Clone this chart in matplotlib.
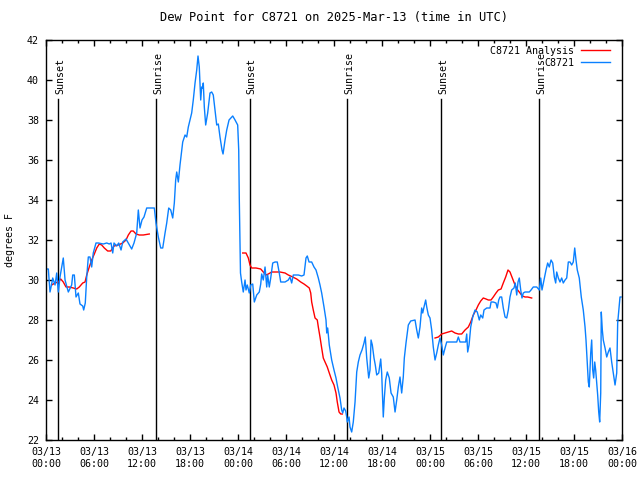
import matplotlib
matplotlib.use("Agg")
import matplotlib.pyplot as plt
import numpy as np

plt.rcParams['font.family'] = ['DejaVu Sans Mono']
plt.rcParams['font.size'] = 7.2

# hours since 2025-03-13 00:00 UTC
obs_hours = [0, 0.29, 0.5, 0.71, 0.84, 1.13, 1.34, 1.54, 1.75, 1.96, 2.16, 2.38, 2.79, 3.21, 3.34, 3.54, 3.75, 4.04,
             4.25, 4.59, 4.71, 4.91, 5.09, 5.29, 5.5, 5.71, 5.91, 6.25, 6.54, 7.16, 7.59, 7.91, 8.13, 8.34, 8.5, 8.84,
             9.09, 9.38, 9.59, 10.0, 10.29, 10.71, 11.0, 11.34, 11.54, 11.75, 12.0, 12.25, 12.59, 13.0, 13.54, 13.75,
             14.04, 14.34, 14.59, 14.88, 15.09, 15.34, 15.59, 15.84, 16.04, 16.21, 16.34, 16.54, 16.75, 17.09, 17.38,
             17.59, 17.79, 18.21, 18.41, 18.63, 18.84, 19.0, 19.16, 19.34, 19.46, 19.59, 19.66, 19.79, 19.96, 20.21,
             20.5, 20.71, 20.91, 21.13, 21.34, 21.54, 21.75, 22.0, 22.13, 22.38, 22.59, 22.88, 23.34, 23.63, 23.96,
             24.09, 24.16, 24.25, 24.31, 24.46, 24.66, 24.88, 25.0, 25.16, 25.41, 25.59, 25.84, 26.04, 26.34, 26.66,
             26.84, 26.96, 27.16, 27.38, 27.59, 27.71, 27.91, 28.09, 28.34, 28.63, 28.91, 29.16, 29.34, 29.88, 30.29,
             30.5, 30.71, 30.91, 31.54, 31.96, 32.25, 32.5, 32.66, 32.88, 33.21, 33.5, 33.75, 34.04, 34.25, 34.46,
             34.75, 35.0, 35.09, 35.21, 35.41, 35.71, 36.0, 36.25, 36.46, 36.75, 36.96, 37.09, 37.25, 37.46, 37.59,
             37.66, 37.88, 38.0, 38.21, 38.41, 38.63, 38.84, 39.04, 39.25, 39.5, 39.75, 39.91, 40.09, 40.34, 40.5,
             40.63, 40.79, 41.0, 41.16, 41.34, 41.59, 41.84, 41.96, 42.16, 42.29, 42.46, 42.66, 42.91, 43.13, 43.41,
             43.63, 43.84, 44.04, 44.25, 44.46, 44.66, 44.79, 45.0, 45.29, 45.59, 46.13, 46.34, 46.54, 46.75, 46.96,
             47.09, 47.25, 47.46, 47.59, 47.79, 48.0, 48.21, 48.41, 48.63, 48.84, 49.04, 49.25, 49.46, 49.66, 49.88,
             50.09, 50.91, 51.34, 51.54, 51.75, 52.46, 52.59, 52.71, 52.88, 53.09, 53.34, 53.63, 53.91, 54.16, 54.34,
             54.59, 54.75, 55.09, 55.5, 55.63, 55.91, 56.25, 56.41, 56.59, 56.75, 56.96, 57.16, 57.38, 57.59, 57.79,
             58.0, 58.21, 58.5, 58.66, 58.84, 59.0, 59.16, 59.34, 59.5, 59.66, 59.88, 60.41, 60.63, 60.91, 61.34,
             61.66, 61.84, 62.0, 62.25, 62.5, 62.71, 62.91, 63.13, 63.34, 63.54, 63.71, 63.84, 64.04, 64.25, 64.46,
             64.66, 64.88, 65.09, 65.29, 65.5, 65.71, 65.91, 66.09, 66.25, 66.41, 66.66, 66.91, 67.16, 67.38, 67.5,
             67.66, 67.79, 67.91, 68.09, 68.21, 68.34, 68.46, 68.59, 68.71, 68.84, 68.96, 69.09, 69.21, 69.34, 69.41,
             69.54, 69.66, 69.88, 70.09, 70.29, 70.5, 70.71, 70.91, 71.13, 71.34, 71.46, 71.63, 71.75, 71.88]
obs_dewpt = [30.55, 30.55, 29.4, 29.8, 30.1, 29.75, 30.35, 29.4, 30.15, 30.65, 31.1, 30.0, 29.4, 29.75, 30.25, 30.25,
             29.15, 29.35, 28.8, 28.7, 28.5, 28.85, 30.15, 31.15, 31.15, 30.65, 31.35, 31.85, 31.85, 31.8, 31.85, 31.8,
             31.85, 31.35, 31.85, 31.7, 31.85, 31.5, 31.9, 32.05, 31.85, 31.55, 31.85, 32.35, 33.5, 32.6, 33.0, 33.15,
             33.6, 33.6, 33.6, 32.85, 32.15, 31.6, 31.6, 32.35, 32.85, 33.6, 33.5, 33.1, 33.85, 35.0, 35.4, 34.9,
             35.75, 36.9, 37.25, 37.15, 37.65, 38.35, 39.0, 39.85, 40.5, 41.2, 40.65, 39.0, 39.65, 39.6, 39.85, 38.65,
             37.75, 38.35, 39.35, 39.4, 39.25, 38.5, 37.75, 37.8, 37.15, 36.5, 36.3, 37.0, 37.5, 38.0, 38.2, 38.0,
             37.75, 36.5, 34.1, 31.65, 30.35, 29.9, 29.4, 30.0, 29.5, 29.75, 29.35, 29.75, 29.8, 28.9, 29.25, 29.4,
             29.8, 30.3, 30.0, 30.65, 29.65, 30.25, 29.65, 30.1, 30.85, 30.9, 30.9, 30.35, 29.9, 29.9, 30.0, 30.15,
             29.85, 30.25, 30.25, 30.2, 30.25, 31.1, 31.2, 30.9, 30.9, 30.65, 30.5, 30.1, 29.75, 29.35, 28.65, 28.0,
             27.35, 27.6, 26.75, 26.0, 25.5, 25.1, 24.65, 24.1, 23.5, 23.35, 23.6, 23.45, 23.15, 22.9, 23.15, 22.65,
             22.4, 22.9, 23.9, 25.4, 25.9, 26.25, 26.5, 26.85, 27.15, 26.1, 25.1, 25.5, 27.0, 26.75, 26.1, 25.75,
             25.25, 25.35, 26.05, 25.35, 23.15, 24.1, 25.0, 25.4, 25.1, 24.35, 24.15, 23.4, 24.0, 24.65, 25.15, 24.35,
             25.15, 26.1, 26.85, 27.75, 27.95, 28.0, 27.5, 27.1, 27.65, 28.6, 28.35, 28.65, 29.0, 28.65, 28.25, 28.1,
             27.5, 26.65, 26.0, 26.35, 26.75, 27.1, 26.75, 26.25, 26.6, 26.9, 26.9, 26.9, 27.15, 26.9, 26.9, 27.3,
             26.4, 26.75, 27.65, 28.15, 28.5, 28.4, 28.0, 28.25, 28.1, 28.5, 28.6, 28.6, 28.9, 28.9, 28.85, 28.6, 29.0,
             29.15, 29.15, 28.6, 28.15, 28.1, 28.5, 29.15, 29.5, 29.6, 29.85, 29.25, 29.9, 30.1, 29.5, 29.1, 29.35,
             29.4, 29.4, 29.5, 29.65, 29.65, 29.5, 30.1, 29.5, 30.0, 30.5, 30.85, 30.65, 31.0, 30.85, 30.15, 29.85,
             30.4, 30.1, 29.9, 30.1, 29.85, 30.0, 30.1, 30.9, 30.9, 30.75, 30.9, 31.6, 31.0, 30.5, 30.1, 29.15, 28.5,
             27.65, 27.0, 25.85, 24.9, 24.65, 26.35, 27.0, 25.5, 25.1, 25.9, 25.5, 24.85, 24.25, 23.4, 22.9, 24.35,
             28.4, 27.5, 27.0, 26.6, 26.15, 26.4, 26.6, 25.9, 25.35, 24.75, 25.35, 27.85, 28.65, 29.15, 29.15]

# analysis series, three separate runs
ana1_hours = [0.71, 1.13, 1.54, 1.84, 2.16, 2.5, 2.91, 3.41, 3.84, 4.16, 4.59, 4.88, 5.09, 5.41, 5.71, 6.04, 6.34,
              6.66, 6.96, 7.29, 7.71, 8.09, 8.5, 9.04, 9.59, 10.0, 10.29, 10.63, 10.91, 11.25, 11.66, 12.16, 12.91]
ana1_dewpt = [29.75, 29.85, 29.9, 30.05, 29.9, 29.65, 29.65, 29.6, 29.55, 29.65, 29.85, 29.9, 30.25, 30.65, 31.0,
              31.3, 31.6, 31.8, 31.75, 31.6, 31.45, 31.45, 31.7, 31.75, 31.85, 32.0, 32.25, 32.45, 32.45, 32.3, 32.25,
              32.25, 32.3]
ana2_hours = [24.59, 25.0, 25.29, 25.5, 25.71, 26.25, 26.84, 27.16, 27.5, 27.79, 28.21, 28.63, 29.25, 29.88, 30.29,
              30.84, 31.34, 31.84, 32.25, 32.59, 32.91, 33.09, 33.21, 33.41, 33.63, 33.91, 34.04, 34.25, 34.46, 34.66,
              34.88, 35.16, 35.41, 35.71, 36.0, 36.25, 36.41, 36.63, 36.84, 37.04]
ana2_dewpt = [31.35, 31.35, 31.1, 30.75, 30.6, 30.6, 30.55, 30.4, 30.25, 30.3, 30.4, 30.4, 30.4, 30.35, 30.25, 30.15,
              30.05, 29.9, 29.8, 29.7, 29.6, 29.35, 28.9, 28.5, 28.1, 28.0, 27.65, 27.15, 26.6, 26.1, 25.9, 25.65,
              25.35, 25.0, 24.75, 24.35, 23.9, 23.4, 23.3, 23.3]
ana3_hours = [48.63, 49.04, 49.46, 49.88, 50.29, 50.71, 51.13, 51.54, 51.96, 52.38, 52.79, 53.09, 53.41, 53.75, 54.04,
              54.34, 54.66, 55.0, 55.29, 55.63, 55.91, 56.25, 56.54, 56.88, 57.16, 57.46, 57.75, 58.0, 58.29, 58.63,
              58.96, 59.25, 59.54, 59.88, 60.21, 60.71]
ana3_dewpt = [27.1, 27.15, 27.3, 27.35, 27.4, 27.45, 27.35, 27.3, 27.3, 27.5, 27.65, 27.9, 28.25, 28.5, 28.75, 28.95,
              29.1, 29.05, 29.0, 29.0, 29.15, 29.35, 29.5, 29.55, 29.85, 30.15, 30.5, 30.4, 30.1, 29.75, 29.5, 29.35,
              29.2, 29.15, 29.15, 29.1]

sun_hours = [1.53, 13.78, 25.45, 37.68, 49.42, 61.67]
sun_labels = ["Sunset", "Sunrise", "Sunset", "Sunrise", "Sunset", "Sunrise"]

tick_hours = list(range(0, 73, 6))
tick_labels = ["03/13\n00:00", "03/13\n06:00", "03/13\n12:00", "03/13\n18:00",
               "03/14\n00:00", "03/14\n06:00", "03/14\n12:00", "03/14\n18:00",
               "03/15\n00:00", "03/15\n06:00", "03/15\n12:00", "03/15\n18:00",
               "03/16\n00:00"]

red = "#ff0000"
blue = "#0a80ff"

fig = plt.figure(figsize=(6.4, 4.8), dpi=100)
ax = fig.add_axes([46 / 640, 40 / 480, 576 / 640, 400 / 480])

for h, lab in zip(sun_hours, sun_labels):
    ax.plot([h, h], [22, 39.05], color="black", lw=1.0)
    ax.text(h + 0.25, 39.3, lab, rotation=90, ha="center", va="bottom")

ax.plot(ana1_hours, ana1_dewpt, color=red, lw=1.0, label="C8721 Analysis")
ax.plot(ana2_hours, ana2_dewpt, color=red, lw=1.0)
ax.plot(ana3_hours, ana3_dewpt, color=red, lw=1.0)
ax.plot(obs_hours, obs_dewpt, color=blue, lw=1.0, label="C8721")

ax.set_xlim(0, 72)
ax.set_ylim(22, 42)
ax.set_xticks(tick_hours)
ax.set_xticklabels(tick_labels)
ax.set_xticks(np.arange(0, 73, 2), minor=True)
ax.set_yticks(np.arange(22, 43, 2))
ax.tick_params(which="both", direction="in", top=True, right=True, width=1)
ax.tick_params(which="major", length=4.3, pad=5)
ax.tick_params(which="minor", length=2.2)
for s in ax.spines.values():
    s.set_linewidth(1.0)

ax.set_title("Dew Point for C8721 on 2025-Mar-13 (time in UTC)", pad=14)
ax.set_ylabel("degrees F", labelpad=9)

ax.legend(loc="upper right", bbox_to_anchor=(0.99, 1.0), markerfirst=False, frameon=False, handlelength=2.9,
          handletextpad=0.7, labelspacing=0.2, borderaxespad=0.3, borderpad=0.3)

fig.savefig("out.png", dpi=100)
